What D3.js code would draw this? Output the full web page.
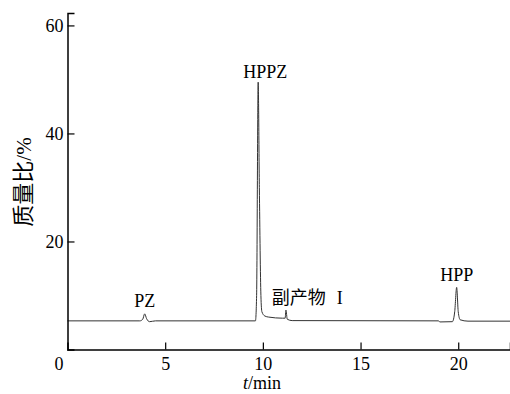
<!DOCTYPE html>
<html>
<head>
<meta charset="utf-8">
<script src="https://cdn.jsdelivr.net/npm/d3@7/dist/d3.min.js"></script>
<style>
  body { margin: 0; background: #fff; }
  text { font-family: "Liberation Serif", "DejaVu Serif", serif; fill: #000; }
  .cjk { font-family: "Noto Sans CJK SC", sans-serif; }
</style>
</head>
<body>
<div id="chart"></div>
<script>
// trace: time (min) and mass ratio (%)
var times  = [0, 3.7, 3.85, 3.95, 4.05, 4.2, 4.5, 9.62, 9.68, 9.76, 9.82, 9.9, 9.95, 10.1, 10.3, 11.0, 11.14, 11.18, 11.25, 11.5, 19.0, 19.05, 19.7, 19.82, 19.92, 20.0, 20.1, 20.5, 22.65];
var values = [5.3, 5.3, 5.6, 6.6, 5.7, 5.15, 5.3, 5.3, 10, 49.5, 30, 10, 7.0, 6.2, 6.0, 5.8, 5.8, 7.3, 5.6, 5.35, 5.3, 5.1, 5.15, 7, 11.5, 7, 5.5, 5.25, 5.25];

// peak labels
var peakNames = ["PZ", "HPPZ", "副产物 I", "HPP"];
var peakT     = [3.95, 9.76, 10.2, 19.92];
var peakY     = [6.6, 49.5, 7.3, 11.5];

var xTicks = [0, 5, 10, 15, 20];
var yTicks = [20, 40, 60];

var width = 510, height = 394;

var svg = d3.select("#chart").append("svg")
    .attr("width", width)
    .attr("height", height);

var x = d3.scaleLinear().domain([0, 22.65]).range([67.5, 510]);
var y = d3.scaleLinear().domain([0, 62.3]).range([349.5, 13]);

// the trace
var pts = times.map(function(t, i) { return [t, values[i]]; });
var line = d3.line()
    .x(function(d) { return x(d[0]); })
    .y(function(d) { return y(d[1]); })
    .curve(d3.curveMonotoneX);

svg.append("path")
    .datum(pts)
    .attr("d", line)
    .attr("fill", "none")
    .attr("stroke", "#333")
    .attr("stroke-width", 1);

// axes, ticks pointing inward
var xAxis = d3.axisBottom(x).tickValues(xTicks).tickSize(-7).tickPadding(8).tickFormat(d3.format("d"));
var gx = svg.append("g")
    .attr("transform", "translate(0," + y(0) + ")")
    .call(xAxis);

var yAxis = d3.axisLeft(y).tickValues(yTicks).tickSize(-7).tickPadding(4);
var gy = svg.append("g")
    .attr("transform", "translate(" + x(0) + ",0)")
    .call(yAxis);

[gx, gy].forEach(function(g) {
  g.attr("font-family", null).attr("font-size", null);
  g.select(".domain").attr("stroke", "#000").attr("stroke-width", 1.5);
  g.selectAll(".tick line").attr("stroke", "#000").attr("stroke-width", 1.2);
  g.selectAll(".tick text")
    .style("font-family", "'Liberation Serif', 'DejaVu Serif', serif")
    .style("font-size", "18px")
    .attr("fill", "#000");
});

// origin label sits left of the axis
gx.selectAll(".tick").filter(function(d) { return d === 0; })
  .each(function() {
    d3.select(this).select("line").remove();
    d3.select(this).select("text").attr("x", -9);
  });

// peak labels
var labelDy = [-7, -4, -6, -6];
var labelDx = [0, 7, 5, 0];
peakNames.forEach(function(name, i) {
  var t = svg.append("text")
      .attr("x", x(peakT[i]) + labelDx[i])
      .attr("y", y(peakY[i]) + labelDy[i])
      .style("font-size", "18px");
  if (name === "副产物 I") {
    t.attr("text-anchor", "start");
    t.append("tspan").attr("class", "cjk").style("font-size", "18px").text("副产物");
    t.append("tspan").attr("dx", 11).text("I");
  } else {
    t.attr("text-anchor", "middle").text(name);
  }
});

// axis titles
var xt = svg.append("text")
    .attr("x", 262)
    .attr("y", 389)
    .attr("text-anchor", "middle")
    .style("font-size", "18px");
xt.append("tspan").style("font-style", "italic").text("t");
xt.append("tspan").text("/min");

var yt = svg.append("text")
    .attr("transform", "translate(31,182) rotate(-90)")
    .attr("text-anchor", "middle")
    .style("font-size", "21px");
yt.append("tspan").attr("class", "cjk").style("font-size", "22px").text("质量比");
yt.append("tspan").text("/%");
</script>
</body>
</html>
